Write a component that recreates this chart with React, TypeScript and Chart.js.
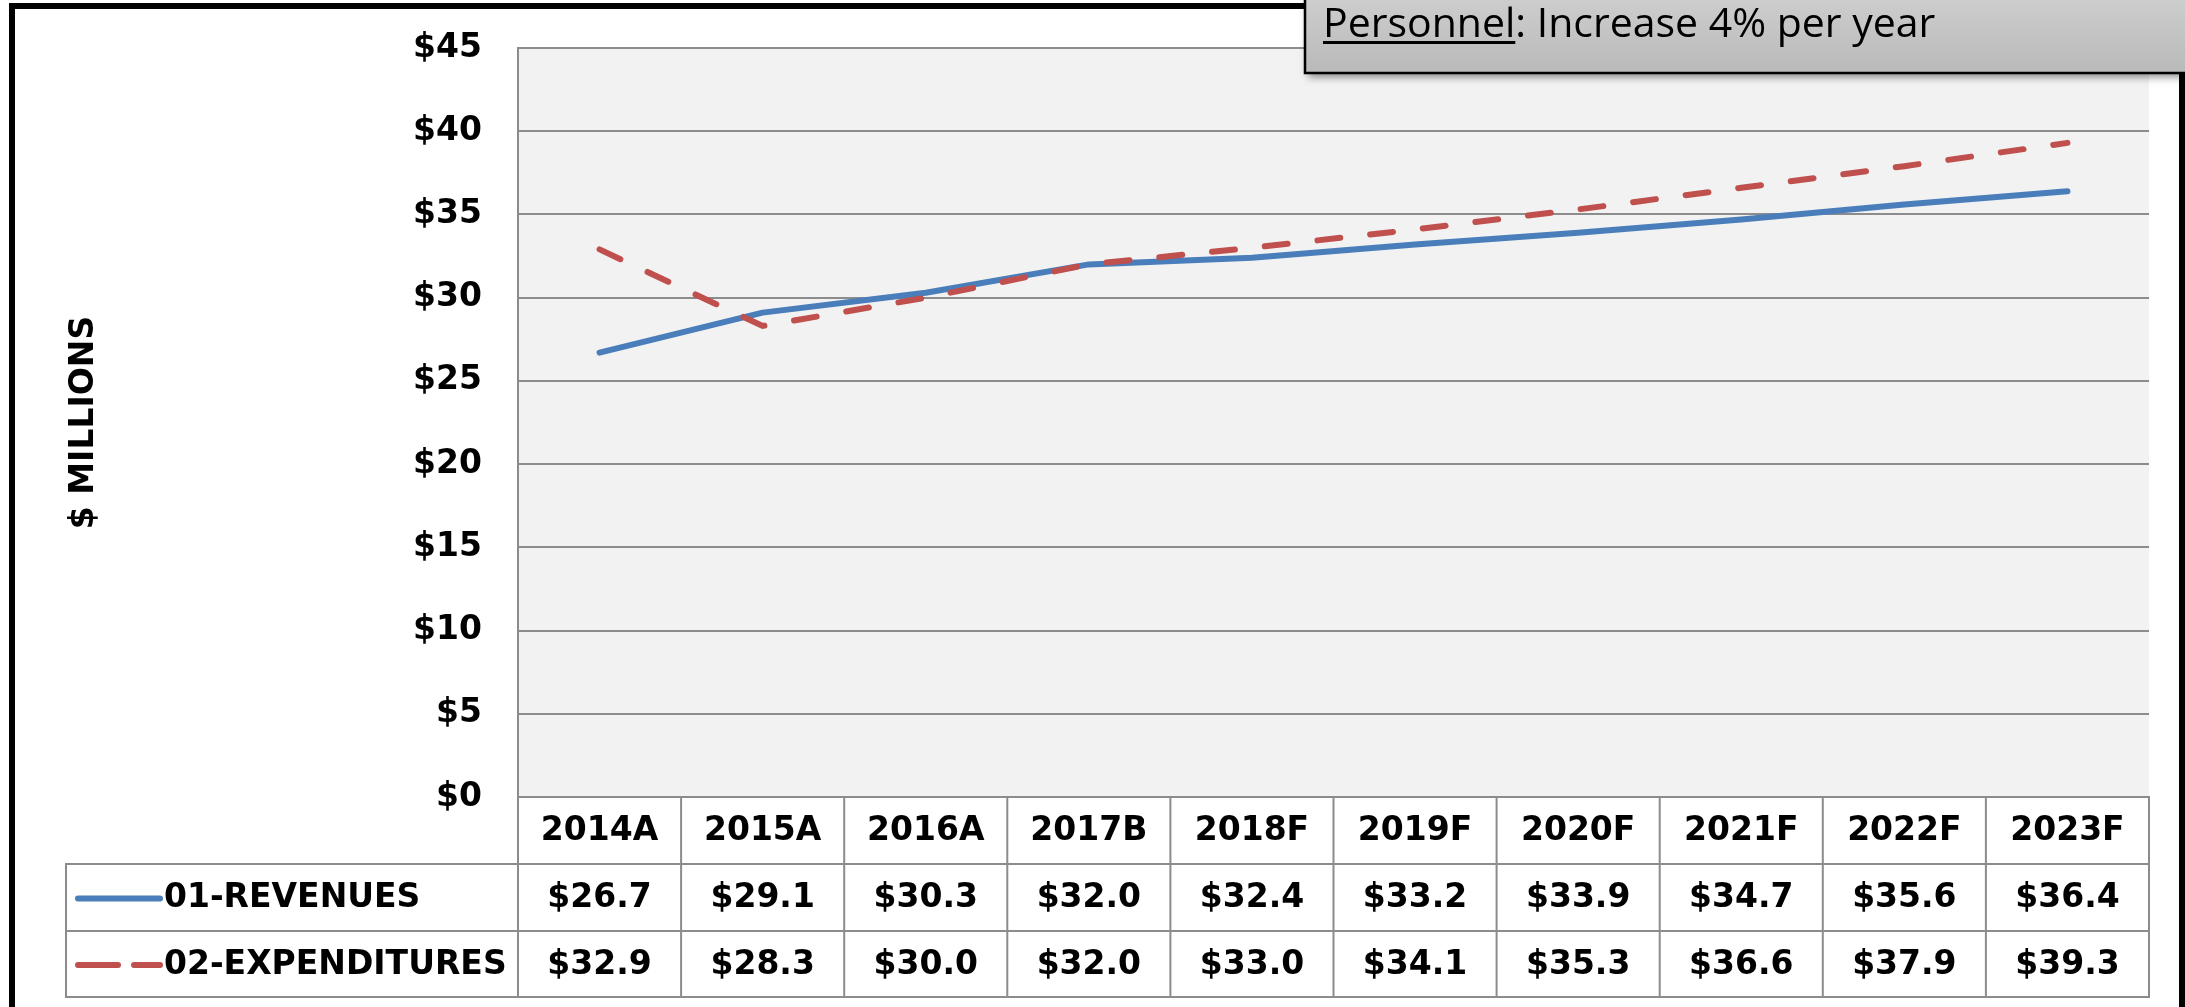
import React, { useEffect, useRef } from 'react';
import { Chart, registerables } from 'chart.js';

Chart.register(...registerables);

// ---- data ----
const categories = ['2014A', '2015A', '2016A', '2017B', '2018F', '2019F', '2020F', '2021F', '2022F', '2023F'];
const revenues = [26.7, 29.1, 30.3, 32.0, 32.4, 33.2, 33.9, 34.7, 35.6, 36.4];
const expenditures = [32.9, 28.3, 30.0, 32.0, 33.0, 34.1, 35.3, 36.6, 37.9, 39.3];
const seriesNames = ['01-REVENUES', '02-EXPENDITURES'];
const yMin = 0;
const yMax = 45;
const yStep = 5;
const yAxisTitle = '$ MILLIONS';
const noteLabel = 'Personnel';
const noteText = ': Increase 4% per year';

const W = 2185;
const H = 1007;
const BOLD_FONT = "bold 33px 'DejaVu Sans'";
const GRID = '#8c8c8c';

const fmt = (v: number) => '$' + v.toFixed(1);

const decorPlugin = {
  id: 'decor',
  beforeDraw(chart: any) {
    const { ctx, chartArea: a } = chart;
    ctx.save();
    ctx.fillStyle = '#ffffff';
    ctx.fillRect(0, 0, chart.width, chart.height);
    ctx.fillStyle = '#f2f2f2';
    ctx.fillRect(a.left, a.top, a.right - a.left, a.bottom - a.top);
    ctx.restore();
  },
  afterDraw(chart: any) {
    const { ctx, chartArea: a } = chart;
    const xs = chart.scales.x;
    const n = categories.length;
    const colW = (a.right - a.left) / n;
    const y0 = a.bottom;
    const y1 = y0 + 67;
    const y2 = y1 + 67;
    const y3 = y2 + 66;
    const legendLeft = 66;

    ctx.save();
    // table background
    ctx.fillStyle = '#ffffff';
    ctx.fillRect(a.left, y0 + 1, a.right - a.left, y1 - y0);
    ctx.fillRect(legendLeft, y1, a.right - legendLeft, y3 - y1);

    // table grid
    ctx.strokeStyle = GRID;
    ctx.lineWidth = 2;
    ctx.beginPath();
    ctx.moveTo(a.left, y0); ctx.lineTo(a.right + 1, y0);
    ctx.moveTo(legendLeft - 1, y1); ctx.lineTo(a.right + 1, y1);
    ctx.moveTo(legendLeft - 1, y2); ctx.lineTo(a.right + 1, y2);
    ctx.moveTo(legendLeft - 1, y3); ctx.lineTo(a.right + 1, y3);
    for (let i = 0; i <= n; i++) {
      const xx = a.left + i * colW;
      ctx.moveTo(xx, y0); ctx.lineTo(xx, y3);
    }
    ctx.moveTo(legendLeft, y1); ctx.lineTo(legendLeft, y3);
    ctx.stroke();

    // header + values
    ctx.fillStyle = '#000000';
    ctx.font = BOLD_FONT;
    ctx.textAlign = 'center';
    ctx.textBaseline = 'middle';
    const rows = [[y1, y2], [y2, y3]];
    categories.forEach((c, i) => {
      const cx = xs.getPixelForValue(i);
      ctx.fillText(c, cx, (y0 + y1) / 2 + 1);
    });
    chart.data.datasets.forEach((ds: any, r: number) => {
      const yc = (rows[r][0] + rows[r][1]) / 2 + 1;
      ds.data.forEach((v: number, i: number) => {
        ctx.fillText(fmt(v), xs.getPixelForValue(i), yc);
      });
      // legend key
      ctx.save();
      ctx.strokeStyle = ds.borderColor;
      ctx.lineWidth = 6;
      ctx.lineCap = 'round';
      if (ds.borderDash) ctx.setLineDash([40, 16]);
      ctx.beginPath();
      ctx.moveTo(78, yc);
      ctx.lineTo(160, yc);
      ctx.stroke();
      ctx.restore();
      ctx.textAlign = 'left';
      ctx.fillText(ds.label, 164, yc);
      ctx.textAlign = 'center';
    });

    // y axis title
    ctx.save();
    ctx.translate(84, (a.top + a.bottom) / 2);
    ctx.rotate(-Math.PI / 2);
    ctx.font = "bold 33px 'DejaVu Sans'";
    ctx.textAlign = 'center';
    ctx.textBaseline = 'middle';
    ctx.fillText(yAxisTitle, 0, 0);
    ctx.restore();

    // outer frame
    ctx.fillStyle = '#000000';
    ctx.fillRect(9, 3, 1305 - 9, 6);
    ctx.fillRect(9, 3, 6, H - 3);
    ctx.fillRect(2179, 70, 6, H - 70);

    // annotation box
    ctx.save();
    ctx.shadowColor = 'rgba(0,0,0,0.45)';
    ctx.shadowBlur = 8;
    ctx.shadowOffsetX = 3;
    ctx.shadowOffsetY = 4;
    const g = ctx.createLinearGradient(0, 0, 0, 73);
    g.addColorStop(0, '#cdcdcd');
    g.addColorStop(1, '#b9b9b9');
    ctx.fillStyle = g;
    ctx.fillRect(1305, -10, 900, 83);
    ctx.restore();
    ctx.strokeStyle = '#000000';
    ctx.lineWidth = 2.5;
    ctx.strokeRect(1305, -10, 900, 83);

    ctx.fillStyle = '#000000';
    ctx.font = "41px 'Open Sans'";
    ctx.textAlign = 'left';
    ctx.textBaseline = 'alphabetic';
    const tx = 1323;
    const ty = 37;
    ctx.fillText(noteLabel, tx, ty);
    const w = ctx.measureText(noteLabel).width;
    ctx.fillRect(tx, ty + 4, w, 3);
    ctx.fillText(noteText, tx + w, ty);
    ctx.restore();
  },
};

export default function App() {
  const ref = useRef<HTMLCanvasElement | null>(null);
  useEffect(() => {
    if (!ref.current) return;
    const chart = new Chart(ref.current, {
      type: 'line',
      data: {
        labels: categories,
        datasets: [
          {
            label: seriesNames[0],
            data: revenues,
            borderColor: '#4A7EBB',
            borderWidth: 6,
            pointRadius: 0,
            tension: 0,
            borderCapStyle: 'round',
            borderJoinStyle: 'round',
            fill: false,
            order: 1,
          },
          {
            label: seriesNames[1],
            data: expenditures,
            borderColor: '#C0504D',
            borderWidth: 6,
            borderDash: [23, 30],
            borderCapStyle: 'round',
            pointRadius: 0,
            tension: 0,
            fill: false,
            order: 0,
          },
        ],
      },
      options: {
        responsive: false,
        animation: false,
        devicePixelRatio: 1,
        layout: { padding: { left: 0, top: 48, right: 36, bottom: 210 } },
        plugins: {
          legend: { display: false },
          tooltip: { enabled: false },
          title: { display: false },
        },
        scales: {
          x: { type: 'category', offset: true, display: false },
          y: {
            min: yMin,
            max: yMax,
            ticks: {
              stepSize: yStep,
              padding: 36,
              color: '#000000',
              font: { family: 'DejaVu Sans', weight: 'bold', size: 33 },
              callback: (v: any) => '$' + v,
            },
            grid: { color: GRID, lineWidth: 2, drawTicks: false },
            border: { display: true, color: GRID, width: 2 },
            afterFit: (s: any) => {
              s.width = 518;
              s.paddingTop = 0;
              s.paddingBottom = 0;
            },
          },
        },
      },
      plugins: [decorPlugin],
    } as any);
    return () => chart.destroy();
  }, []);
  return (
    <div style={{ position: 'absolute', left: 0, top: 0, width: W, height: H, overflow: 'hidden', background: '#fff' }}>
      <canvas ref={ref} width={W} height={H} style={{ display: 'block', width: W, height: H }} />
    </div>
  );
}
